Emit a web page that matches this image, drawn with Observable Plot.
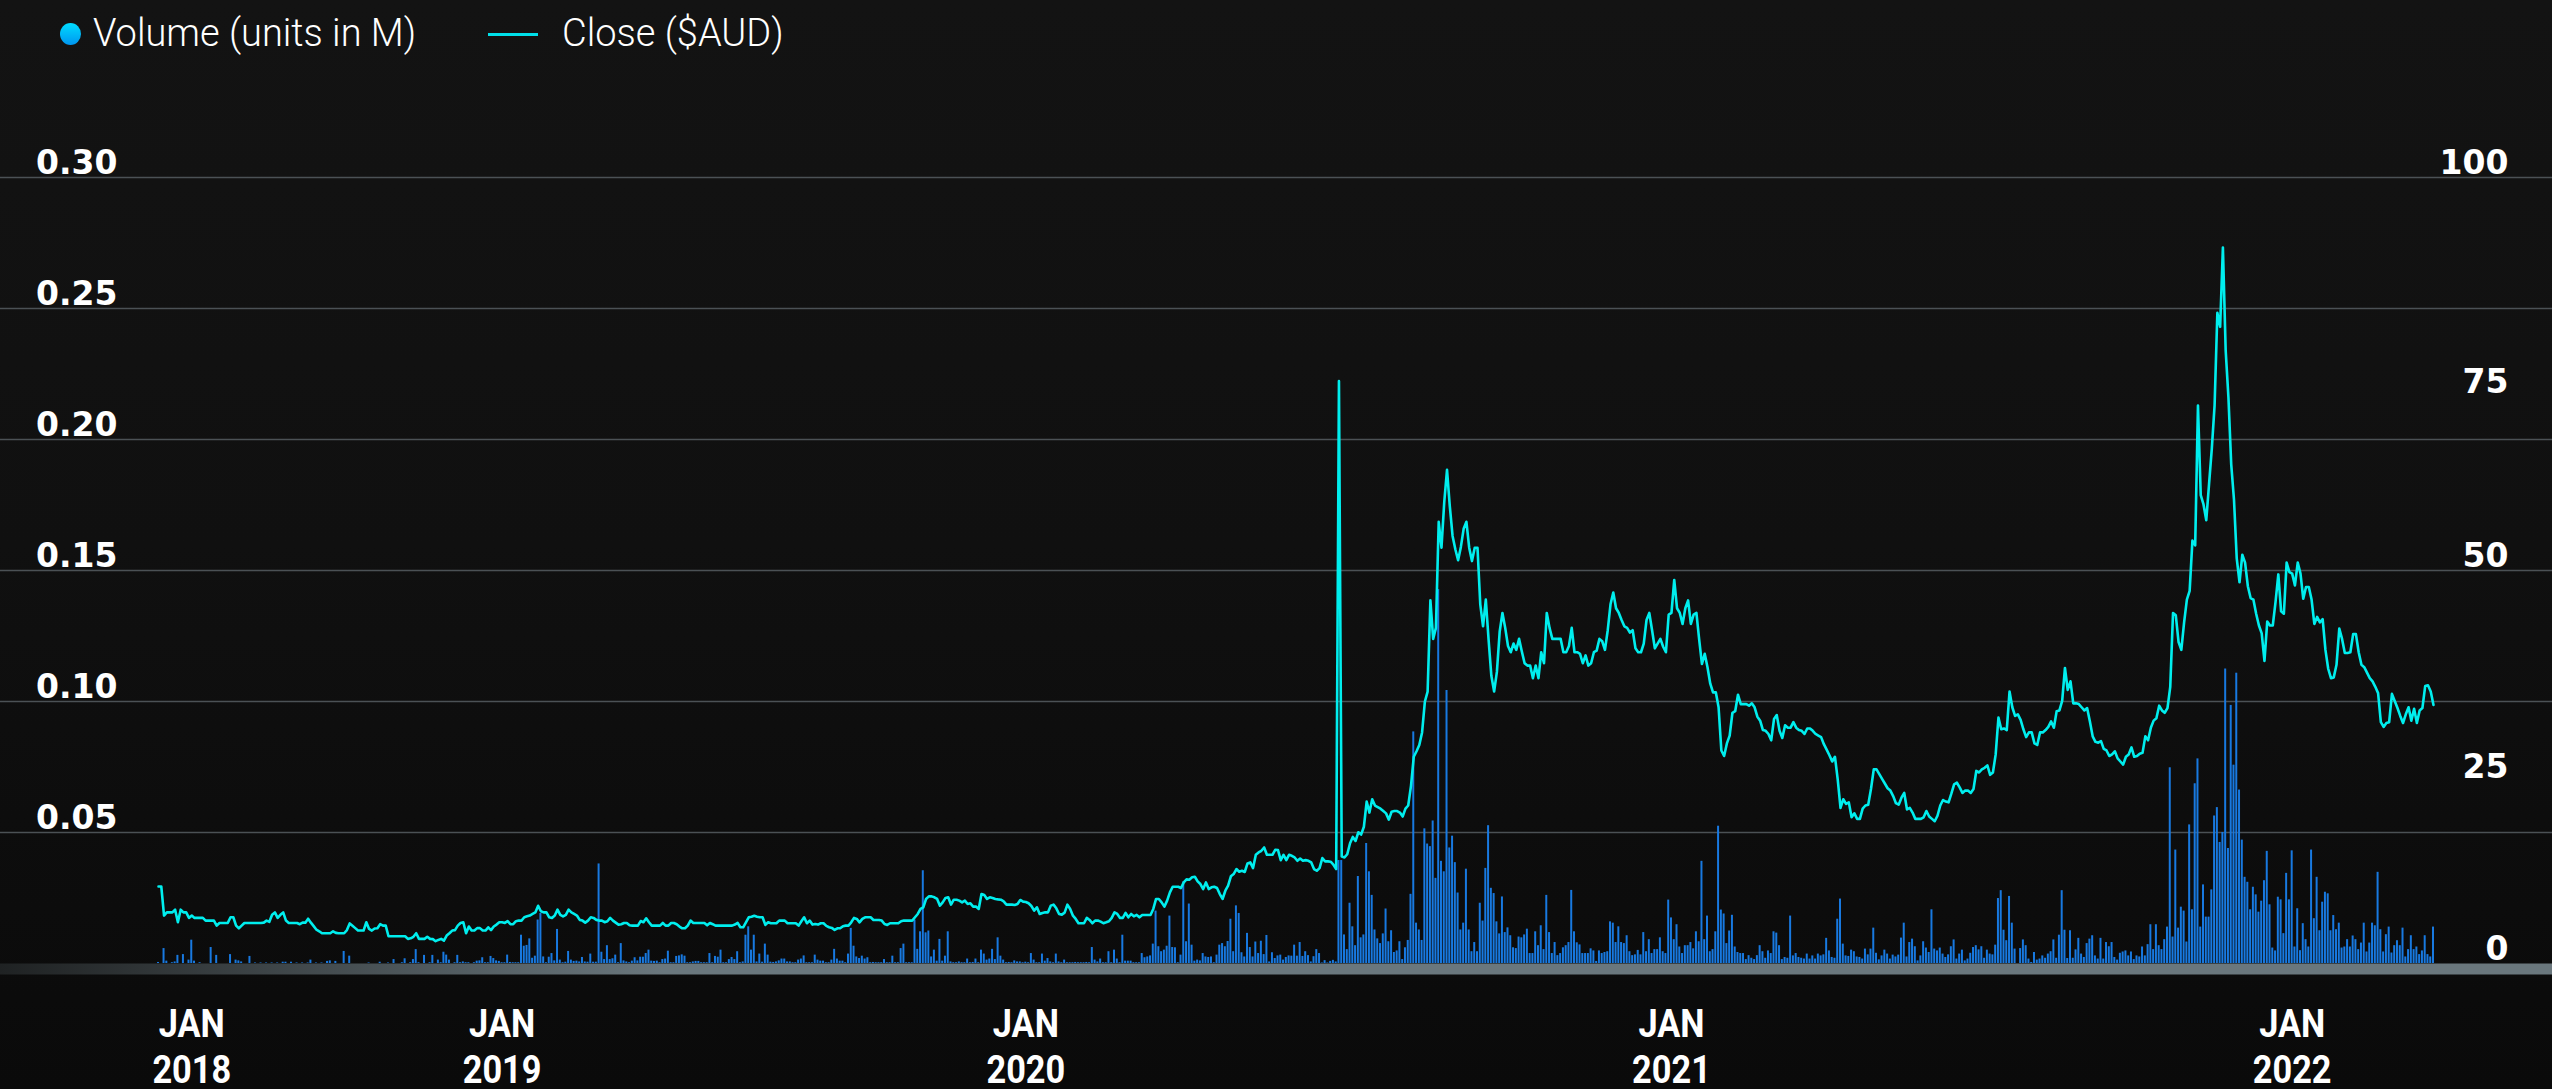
<!DOCTYPE html>
<html><head><meta charset="utf-8">
<script src="https://cdn.jsdelivr.net/npm/d3@7"></script>
<script src="https://cdn.jsdelivr.net/npm/@observablehq/plot@0.6"></script>
<style>
html,body{margin:0;padding:0;width:2552px;height:1089px;overflow:hidden;
  background:linear-gradient(to bottom,#131313 0%,#101010 50%,#0a0a0a 100%);}
#legend{position:relative;height:70px;}
#dot{position:absolute;left:60px;top:23px;width:21px;height:22px;border-radius:50%;
  background:linear-gradient(to bottom,#00dcff,#0096f0);}
#lineKey{position:absolute;left:488px;top:33px;width:50px;height:3px;background:#00e0ea;}
.lbl{position:absolute;top:13px;font-family:Roboto,"Noto Sans",sans-serif;font-weight:300;
  font-size:38px;line-height:40px;color:#fff;white-space:nowrap;}
#chart svg{display:block;}
</style></head>
<body>
<div id="legend"></div>
<div id="chart"></div>
<script>
// ---------- labels ----------
const seriesNames = ["Volume (units in M)", "Close ($AUD)"];
const tickMonth = "JAN";
const tickYears = ["2018", "2019", "2020", "2021", "2022"];
const volumeTicks = [0.05, 0.10, 0.15, 0.20, 0.25, 0.30];
const closeTicks = [0, 25, 50, 75, 100];

// ---------- close price ($AUD), one value per trading day ----------
const closeDec2017 = [9.8,9.8,6.1,6.5,6.5,6.5,6.85,5.25,6.85,6.5,6.5,5.8];
const close2018 = [
6.1,5.8,5.8,5.8,5.8,5.46,5.46,5.46,5.46,4.82,
5.16,5.16,5.16,5.16,5.88,5.88,4.82,4.48,4.82,5.16,
5.16,5.16,5.16,5.16,5.16,5.16,5.2,5.46,5.3,6.2,
6.5,5.8,6.2,6.5,5.46,5.16,5.16,5.16,5.16,5.0,
5.2,5.2,5.7,5.2,4.75,4.3,4.1,3.85,3.85,3.85,
3.85,4.1,3.9,3.85,3.85,3.85,4.25,5.1,4.8,4.5,
4.19,4.19,4.19,5.25,4.4,4.19,4.45,4.48,5.0,4.82,
4.82,3.47,3.47,3.47,3.47,3.47,3.47,3.47,3.13,3.2,
3.4,3.85,3.13,3.13,3.13,3.4,3.13,3.1,2.84,3.0,
3.13,2.9,3.55,3.85,4.19,4.25,4.82,5.16,5.25,3.85,
4.7,4.19,4.19,4.5,4.5,4.19,4.19,4.6,4.25,4.7,
4.95,5.25];
const close2019 = [
5.25,5.16,5.38,5.0,5.0,5.38,5.46,5.46,5.88,6.0,
6.1,6.3,6.5,7.35,6.65,6.5,6.5,5.88,5.8,6.1,
6.85,6.2,6.0,6.2,6.85,6.5,6.3,6.1,5.55,5.46,
5.2,5.46,5.88,5.8,5.55,5.46,5.46,5.25,5.38,5.8,
5.46,5.2,4.95,5.0,5.16,5.16,4.86,4.82,4.82,4.82,
5.4,5.25,5.75,5.25,4.82,4.82,4.82,4.82,5.16,4.82,
4.82,5.16,5.16,5.0,4.7,4.48,4.48,4.82,5.46,5.16,
5.16,5.16,5.16,5.16,4.86,5.16,5.0,4.82,4.82,4.82,
4.82,4.82,4.82,4.82,4.95,5.16,4.61,4.61,5.24,5.88,
5.96,6.08,5.96,5.88,5.88,4.91,5.24,5.12,5.12,5.12,
5.46,5.46,5.46,5.12,5.12,5.12,5.12,4.82,5.37,5.88,
5.12,5.46,4.95,5.03,4.95,5.12,5.12,4.78,4.61,4.53,
4.27,4.48,4.48,4.74,4.82,4.82,5.24,5.80,5.67,5.24,
5.67,5.88,5.88,5.88,5.54,5.54,5.54,5.46,5.03,4.91,
5.12,5.12,5.12,5.12,5.37,5.46,5.46,5.46,5.46,5.88,
6.30,6.94,7.15,8.21,8.54,8.54,8.42,8.21,7.36,7.78,
8.33,8.42,7.49,8.12,8.12,8.0,7.78,8.0,7.57,7.66,
7.24,7.24,6.94,8.84,8.71,8.21,8.42,8.33,8.21,8.16,
8.12,7.91,7.49,7.49,7.49,7.45,7.57,8.08,7.87];
const close2020 = [
7.83,7.66,7.32,6.73,7.15,6.30,6.43,6.51,6.51,7.36,
7.49,7.02,6.30,6.22,6.47,7.49,6.94,6.09,5.67,5.12,
5.12,5.12,5.80,5.54,5.12,5.46,5.46,5.33,5.12,5.24,
5.37,5.80,6.51,6.30,5.80,5.80,6.43,5.88,6.30,6.0,
6.18,5.88,6.18,6.18,6.18,6.18,6.94,8.21,8.21,7.78,
7.24,8.0,9.05,9.77,9.77,9.77,9.60,10.32,10.70,10.66,
10.96,11.04,10.45,10.11,9.47,10.32,9.47,9.69,9.77,9.60,
8.84,8.21,9.26,9.90,11.09,11.38,12.02,11.68,11.80,11.64,
12.74,12.86,12.14,13.83,14.13,14.34,14.76,13.83,13.83,13.83,
14.47,14.42,13.15,13.83,13.15,13.83,13.70,13.49,13.07,13.36,
13.07,13.15,13.07,12.86,12.02,11.80,12.14,13.41,12.99,12.99,
12.95,12.57,12.02,74.1,13.6,13.5,13.9,15.3,16.1,15.6,
16.7,16.4,17.4,20.6,19.2,20.9,20.1,19.9,19.7,19.4,
19.1,18.3,19.3,19.4,19.4,19.2,18.7,19.7,20.1,22.6,
26.3,27.0,27.8,29.4,33.3,34.6,46.2,41.3,42.7,56.2,
52.9,58.7,62.8,58.2,54.4,52.7,51.3,53.0,55.3,56.2,
52.9,51.2,52.9,52.9,45.7,42.9,46.3,41.2,36.6,34.6,
37.1,42.2,44.6,42.7,40.4,39.6,40.7,39.9,41.3,39.7,
38.2,37.9,37.9,36.3,37.9,36.3,39.6,38.2,44.6,42.7,
41.3,41.3,41.3,41.3,39.6,39.6,40.4,42.7,39.6,39.6,
39.4,38.2,39.2,37.9,38.2,39.6,39.8,41.3,41.0,39.9,
42.4,45.7,47.2,45.2,44.6,43.7,42.9,42.7,42.1,42.4,
40.1,39.6,39.6,40.7,43.7,44.6,42.4,40.1,40.7,41.3,
40.3,39.6,44.4];
const close2021 = [
44.6,48.8,45.2,44.6,43.2,45.2,46.2,43.2,44.4,44.6,
41.2,38.1,39.4,37.7,35.6,34.5,34.5,32.6,27.1,26.4,
28.0,29.0,31.9,32.1,34.2,33.0,33.0,33.0,32.8,33.1,
32.6,31.4,30.9,29.7,29.6,29.2,28.4,31.1,31.6,29.6,
28.7,30.3,30.0,30.0,30.7,30.0,29.7,29.6,29.2,29.9,
29.9,29.6,29.2,29.0,28.8,27.9,27.2,26.5,25.7,26.3,
23.4,19.8,20.9,20.3,20.5,18.6,19.1,18.4,18.4,19.7,
20.1,20.2,22.2,24.7,24.7,24.1,23.5,22.9,22.3,22.0,
21.3,20.4,20.2,21.1,21.7,19.6,19.8,19.2,18.4,18.4,
18.4,18.6,19.4,18.7,18.4,18.1,18.8,20.1,20.8,20.6,
20.5,21.6,22.8,23.0,22.4,21.7,22.0,22.0,21.7,22.2,
24.5,24.3,24.7,24.9,25.2,24.0,24.3,26.6,31.3,29.8,
29.9,29.7,34.6,32.6,31.5,31.7,31.0,29.8,28.8,29.4,
29.4,28.0,27.8,29.4,29.4,29.7,30.1,30.8,30.0,32.1,
32.2,33.4,37.6,34.8,35.9,33.1,33.1,33.0,32.6,32.2,
32.5,30.8,28.9,28.2,28.1,28.3,27.3,27.1,26.4,26.6,
27.0,26.1,25.7,25.3,26.3,26.6,27.5,26.3,26.4,26.7,
26.8,28.9,28.4,30.0,30.9,31.2,32.8,32.2,31.9,32.5,
35.2,44.6,44.3,40.9,39.9,43.4,46.3,47.4,53.8,53.2,
71.0,59.6,58.4,56.4,61.0,65.5,71.0,82.8,81.0,91.1,
78.0,72.0,63.5,59.0,51.5,48.5,52.0,51.0,48.0,46.5,
46.3,44.5,43.0,42.0,38.5,43.5,43.0,43.0,46.0,49.5,
44.8,44.5,51.0,49.8];
const close2022 = [
49.6,48.1,51.0,49.6,46.4,47.9,47.9,46.3,43.2,44.1,
43.4,43.8,39.9,37.5,36.3,36.4,38.0,42.6,41.3,39.5,
39.5,39.6,41.9,41.9,39.6,38.0,37.7,37.0,36.3,35.9,
35.2,34.4,30.7,30.1,30.6,30.7,34.3,33.4,32.5,31.5,
30.6,31.7,32.6,30.9,32.4,30.6,32.2,32.5,35.3,35.4,
34.6,32.9];

// ---------- volume, in thousands of units (axis shows millions) ----------
const volKDec2017 = [0.4,0,5.7,0.9,0,0.3,0.6,3.1,0,3.4,0,1.3];
const volK2018 = [
8.9,0.9,0,0.3,0,0,0,6.1,0,3.1,
0,0,0,0,3.4,0,1.3,1.0,0.6,0,
0,2.7,0,0.2,0,0.2,0,0.2,0,0.2,
0,0.2,0,0.5,0.5,0,0.5,0,0.2,0,
0.2,0,0.2,1.3,0,0.2,0,0.2,0,0.8,
1.0,0,0.8,0,0,4.6,0,2.8,0,0,
0,0,0,0,0.2,0,0,0,0.5,0,
0,0.2,0,1.5,0,0,0.3,1.8,0,0.3,
1.5,5.3,0.3,0,3.1,0,0.3,3.1,0,1.3,
0.3,4.3,3.2,1.3,0,0.3,3.1,0.3,0.6,0.3,
0.3,0,0.3,0.9,1.0,2.2,0.3,0.3,2.7,1.9,
1.0,0.8];
const volK2019 = [
0.3,0.3,3.2,0.4,0.3,0.3,0.3,10.8,6.6,6.9,
9.4,2.0,2.8,16.6,19.1,2.5,0.3,2.4,3.8,1.0,
13.0,1.3,0.3,0.5,4.6,1.3,0.8,0.9,0.6,2.3,
0.6,0.5,3.6,0.5,0.5,38.0,4.3,1.5,6.8,1.5,
1.8,3.2,0.3,7.6,1.0,0.6,0.3,0.9,2.2,1.0,
2.4,2.4,3.8,5.1,0.9,0.8,0.9,0.3,1.5,1.7,
4.7,0.3,0.3,2.7,2.9,3.3,2.8,0.3,0.3,0.6,
0.8,0.8,0.3,0.3,0.3,3.8,0.3,2.7,2.4,5.1,
0.3,0.3,1.5,2.3,1.5,4.5,0.3,0.6,10.8,14.0,
5.1,10.8,0.6,3.6,0.5,7.4,3.2,0.5,0.4,0.6,
1.0,1.7,1.7,0.6,0.6,0.3,0.3,1.3,1.7,2.9,
0.3,0.3,0.3,3.2,1.3,0.9,0.9,0.3,0.3,1.3,
5.4,1.7,0.9,0.9,0.3,3.6,13.4,6.6,2.5,1.9,
2.8,1.7,2.2,0.3,0.4,0.3,0.3,0.3,1.5,0.3,
0.3,2.8,0.3,0.3,5.7,7.4,0.3,0.3,0.3,16.6,
5.4,12.1,35.4,11.7,12.4,2.5,5.1,0.9,9.2,0.9,
2.8,12.1,0.6,0.3,0.3,0.6,0.3,0.3,1.7,0.3,
0.4,1.7,0.3,5.1,3.6,1.3,1.7,5.4,1.5,9.8,
2.8,1.3,0.3,0.4,0.3,1.0,0.6,0.6,0.3];
const volK2020 = [
0.5,0.3,3.8,1.3,0.3,0.3,3.6,0.9,1.9,0.6,
0.3,3.6,0.6,0.3,1.3,0.3,0.3,0.3,0.4,0.3,
0.3,0.3,0.4,0.3,6.1,1.3,0.6,1.7,0.3,0.3,
4.5,0.3,5.1,1.7,0.3,10.8,0.9,0.9,0.9,0.3,
0.3,0.3,3.8,2.2,2.5,2.9,7.4,20.0,6.4,4.5,
5.1,6.6,18.1,6.1,6.0,0.3,3.2,31.2,8.3,22.7,
7.0,0.9,1.3,1.0,3.8,2.5,2.3,2.5,0.3,3.2,
7.0,7.6,6.4,8.4,16.9,4.5,22.0,19.1,4.1,2.5,
11.5,6.1,2.5,8.2,3.8,8.5,3.4,10.7,0.6,4.1,
1.9,2.9,3.2,1.3,2.3,2.9,2.8,7.0,2.8,8.0,
2.7,4.5,3.0,0.6,2.6,5.3,3.8,0.2,1.1,0.2,
0.8,1.2,0.6,39.3,39.3,10.9,5.3,23.0,14.0,6.8,
33.2,9.8,10.9,45.8,35.0,26.0,12.8,9.4,7.6,11.3,
20.8,8.3,12.5,4.2,4.8,8.3,1.5,6.0,8.8,26.4,
88.4,15.4,12.8,8.8,51.4,45.6,44.6,54.4,32.5,142.7,
39.0,35.0,104.2,44.1,48.6,38.5,26.9,12.8,15.4,36.0,
12.8,4.5,8.0,4.5,23.0,16.2,36.3,52.6,28.7,26.7,
15.9,11.3,25.4,11.8,13.6,10.6,6.0,5.7,10.1,9.8,
10.9,13.1,3.8,3.8,12.1,6.8,14.4,5.3,26.0,11.8,
3.8,8.0,3.0,3.8,6.0,6.8,8.0,27.9,12.1,7.9,
7.1,3.8,3.8,3.8,5.6,4.8,0.8,4.8,3.8,4.2,
4.5,15.9,15.4,8.0,14.0,8.0,7.6,10.6,4.5,3.0,
3.3,5.0,3.3,11.8,4.5,9.1,3.8,5.3,5.3,9.8,
4.5,3.8,24.2];
const volK2021 = [
17.4,9.1,14.8,6.3,3.8,6.8,6.8,8.0,5.6,12.1,
8.3,39.0,9.1,18.1,4.5,5.3,12.1,52.4,20.4,18.9,
7.6,12.4,18.4,6.3,4.2,3.8,3.8,1.5,3.0,2.0,
1.5,3.0,6.8,4.5,2.0,4.8,3.8,12.1,11.6,6.8,
1.5,2.3,2.0,18.1,2.9,3.8,2.3,2.0,1.7,3.6,
1.7,2.9,1.7,3.6,2.9,3.3,9.6,4.8,2.3,2.0,
16.9,24.6,7.4,2.9,2.7,5.1,4.5,2.5,2.3,1.7,
5.5,3.3,5.5,13.5,3.9,1.4,2.9,5.1,3.6,1.7,
3.2,2.5,3.2,9.7,15.4,2.5,8.0,9.3,6.4,1.0,
2.9,8.3,5.9,4.2,20.5,5.5,4.8,5.9,3.6,2.3,
3.3,6.4,9.0,1.7,3.6,5.1,1.0,1.7,3.9,6.1,
6.8,5.2,6.4,2.0,5.1,3.6,3.3,7.0,24.8,27.8,
12.7,8.7,25.6,15.4,5.5,0,5.7,9.0,6.8,1.7,
0.4,4.2,1.3,1.7,2.9,2.0,3.6,4.5,9.0,2.0,
10.8,27.8,12.7,1.9,12.5,2.0,5.2,9.6,3.6,2.3,
7.6,9.3,10.6,2.9,1.7,9.6,1.7,8.0,6.4,8.0,
2.3,1.3,3.9,4.4,4.8,2.9,4.4,1.5,2.9,2.5,
6.3,2.9,7.2,14.8,5.3,14.8,6.8,5.3,9.1,13.9,
74.7,10.1,43.3,13.5,21.5,20.0,8.2,52.9,20.5,68.6,
78.1,13.9,30.0,17.7,17.7,28.1,56.3,59.5,46.2,50.0,
112.4,43.9,98.5,75.7,110.8,66.2,47.1,32.9,31.0,20.5,
29.1,26.2,19.6,23.8,31.6,42.8,22.4,5.9,4.8,25.3,
24.3,11.4,34.4,24.3];
const volK2022 = [
43.0,6.3,20.9,4.9,15.2,9.1,6.3,43.3,17.1,32.9,
12.5,23.4,27.2,26.6,12.5,18.3,12.9,15.4,5.9,6.3,
9.1,6.3,10.5,9.1,5.3,7.8,15.4,4.4,7.8,15.4,
14.4,34.8,12.9,4.4,11.0,13.9,4.0,6.8,8.7,6.8,
13.5,2.5,5.3,10.6,5.3,6.3,3.4,4.8,10.6,3.4,
2.5,13.9];

// ---------- assemble rows (x = trading-day index) ----------
const closeParts = [closeDec2017, close2018, close2019, close2020, close2021, close2022];
const volParts = [volKDec2017, volK2018, volK2019, volK2020, volK2021, volK2022];
const rows = [];
const yearTicks = [];
const yearLabel = new Map();
closeParts.forEach((part, p) => {
  if (p > 0) { yearTicks.push(rows.length); yearLabel.set(rows.length, tickYears[p - 1]); }
  part.forEach((c, j) => rows.push({i: rows.length, close: c, vol: volParts[p][j] / 1000}));
});

// close is drawn on the volume y scale: 100 $AUD <-> 0.30 M
const closeScale = 0.30 / 100;

// ---------- legend ----------
const legend = document.getElementById("legend");
legend.innerHTML =
  `<span id="dot"></span><span class="lbl" style="left:93px">${seriesNames[0]}</span>` +
  `<span id="lineKey"></span><span class="lbl" style="left:562px">${seriesNames[1]}</span>`;

// ---------- chart ----------
const W = 2552, H = 1019;
const tickFont = {fontSize: 33, fontWeight: "bold", fontFamily: "DejaVu Sans", fill: "#ffffff"};
const rightAxis = (ticks, dy) => Plot.axisY(ticks.map(v => v * closeScale), {
  anchor: "right", tickSize: 0, tickPadding: -44, textAnchor: "end", dy, label: null,
  tickFormat: d => String(Math.round(d / closeScale)), ...tickFont
});
const chart = Plot.plot({
  width: W, height: H,
  marginTop: 0, marginRight: 0, marginBottom: 0, marginLeft: 0,
  style: {background: "transparent", color: "#ffffff", overflow: "visible"},
  x: {type: "linear", domain: [0, rows.length - 1], range: [158, 2433], label: null},
  y: {type: "linear", domain: [0, 0.30], range: [893, 107], label: null},
  marks: [
    Plot.ruleY(volumeTicks, {stroke: "#4b5155", strokeWidth: 1.5}),
    Plot.rectY(rows, {x1: d => d.i - 0.36, x2: d => d.i + 0.36, y1: 0, y2: "vol", fill: "#1879e0"}),
    Plot.ruleY([0], {stroke: "url(#baseGrad)", strokeWidth: 11, dy: 5.5}),
    Plot.lineY(rows, {x: "i", y: d => d.close * closeScale, stroke: "#00eeee", strokeWidth: 2.6}),
    Plot.axisY(volumeTicks, {
      anchor: "left", tickSize: 0, tickPadding: -117, textAnchor: "end", dy: -14, label: null,
      tickFormat: d3.format(".2f"), ...tickFont
    }),
    rightAxis(closeTicks.filter(v => v % 50 === 0), -14),
    rightAxis(closeTicks.filter(v => v === 75), 8),
    rightAxis(closeTicks.filter(v => v === 25), 0),
    Plot.axisX(yearTicks, {
      anchor: "bottom", tickSize: 0, tickPadding: -85, lineAnchor: "top", lineHeight: 1.18, label: null,
      tickFormat: d => `${tickMonth}\n${yearLabel.get(d)}`, fontSize: 39, fontWeight: "bold",
      fontFamily: "Roboto, 'Noto Sans', sans-serif", fill: "#ffffff"
    })
  ]
});

// horizontal gradient for the base band
const defs = d3.select(chart).insert("defs", ":first-child");
const grad = defs.append("linearGradient").attr("id", "baseGrad")
  .attr("gradientUnits", "userSpaceOnUse").attr("x1", 0).attr("x2", W).attr("y1", 0).attr("y2", 0);
grad.append("stop").attr("offset", 0).attr("stop-color", "#1f2223");
grad.append("stop").attr("offset", 0.26).attr("stop-color", "#6a777d");
grad.append("stop").attr("offset", 1).attr("stop-color", "#6a777d");

// condensed look for the date labels: squeeze each label horizontally about its own anchor
d3.select(chart).selectAll('g[aria-label="x-axis tick label"] text').each(function () {
  const t = this.getAttribute("transform");
  if (t) this.setAttribute("transform", t + " scale(0.88,1)");
  else {
    const x = +this.getAttribute("x") || 0;
    this.setAttribute("transform", `translate(${x},0) scale(0.88,1) translate(${-x},0)`);
  }
});

document.getElementById("chart").appendChild(chart);
</script>
</body></html>
